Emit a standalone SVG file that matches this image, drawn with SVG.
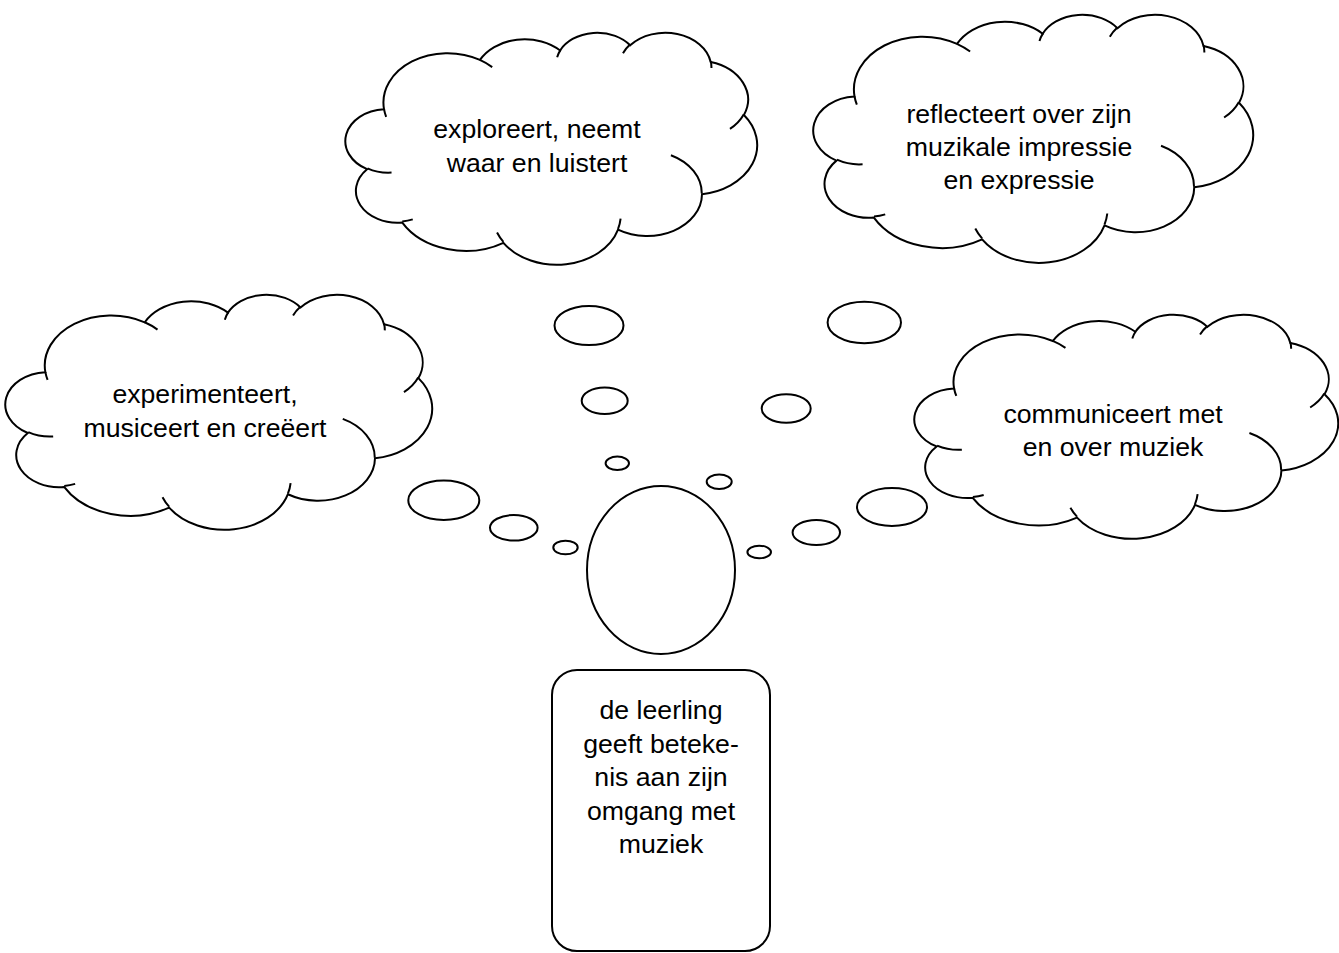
<svg xmlns="http://www.w3.org/2000/svg" width="1339" height="953" viewBox="0 0 1339 953">
<style>
.cl{fill:#fff;stroke:#000;stroke-width:2;vector-effect:non-scaling-stroke}
.st{fill:none;stroke:#000;stroke-width:2;vector-effect:non-scaling-stroke}
.bub{fill:#fff;stroke:#000;stroke-width:2}
.t{font-family:"Liberation Sans",Arial,Helvetica,sans-serif;font-size:26.67px;fill:#000;text-anchor:middle}
</style>
<defs>
<path id="cloudOutline" d="M3900 14370 A6753 9190 0 0 1 14005 5202 A5333 7267 0 0 1 22456 3431 A4365 5945 0 0 1 29834 2479 A4857 6595 0 0 1 38320 5574 A5333 7273 0 0 1 41820 15458 A6775 9220 0 0 1 37404 30198 A5785 7867 0 0 1 28556 36808 A6752 9215 0 0 1 16482 39261 A7720 10543 0 0 1 5806 35464 A4360 5918 0 0 1 2115 25542 A4345 5945 0 0 1 3900 14370 Z"/>
<path id="cloudStubs" d="M4693 26177 A4345 5945 0 0 1 2160 25380 M6928 34899 A4360 5918 0 0 1 5820 35281 M16478 39090 A6752 9215 0 0 1 15809 37349 M28827 34751 A6752 9215 0 0 1 28560 36660 M34129 22954 A5785 7867 0 0 1 37380 30090 M41798 15354 A5333 7273 0 0 1 40350 18030 M38324 5426 A4857 6595 0 0 1 38400 6690 M29078 3952 A4857 6595 0 0 1 29820 2340 M22141 4720 A4365 5945 0 0 1 22500 3332 M14000 5192 A6753 9190 0 0 1 15299 6540 M4127 15789 A6753 9190 0 0 1 3900 14370"/>
</defs>

<g id="cloud-exploreert">
<g transform="translate(347,32) scale(0.009491,0.005370)">
<path class="cl" d="M3900 14370 A6753 9190 0 0 1 14005 5202 A5333 7267 0 0 1 22456 3431 A4365 5945 0 0 1 29834 2479 A4857 6595 0 0 1 38320 5574 A5333 7273 0 0 1 41820 15458 A6775 9220 0 0 1 37404 30198 A5785 7867 0 0 1 28556 36808 A6752 9215 0 0 1 16482 39261 A7720 10543 0 0 1 5806 35464 A4360 5918 0 0 1 2115 25542 A4345 5945 0 0 1 3900 14370 Z"/>
<path class="st" d="M4693 26177 A4345 5945 0 0 1 2160 25380 M6928 34899 A4360 5918 0 0 1 5820 35281 M16478 39090 A6752 9215 0 0 1 15809 37349 M28827 34751 A6752 9215 0 0 1 28560 36660 M34129 22954 A5785 7867 0 0 1 37380 30090 M41798 15354 A5333 7273 0 0 1 40350 18030 M38324 5426 A4857 6595 0 0 1 38400 6690 M29078 3952 A4857 6595 0 0 1 29820 2340 M22141 4720 A4365 5945 0 0 1 22500 3332 M14000 5192 A6753 9190 0 0 1 15299 6540 M4127 15789 A6753 9190 0 0 1 3900 14370"/>
</g>
<text class="t" x="537" y="138">exploreert, neemt</text>
<text class="t" x="537" y="172">waar en luistert</text>
</g>

<g id="cloud-reflecteert">
<g transform="translate(815,14) scale(0.010139,0.005741)">
<path class="cl" d="M3900 14370 A6753 9190 0 0 1 14005 5202 A5333 7267 0 0 1 22456 3431 A4365 5945 0 0 1 29834 2479 A4857 6595 0 0 1 38320 5574 A5333 7273 0 0 1 41820 15458 A6775 9220 0 0 1 37404 30198 A5785 7867 0 0 1 28556 36808 A6752 9215 0 0 1 16482 39261 A7720 10543 0 0 1 5806 35464 A4360 5918 0 0 1 2115 25542 A4345 5945 0 0 1 3900 14370 Z"/>
<path class="st" d="M4693 26177 A4345 5945 0 0 1 2160 25380 M6928 34899 A4360 5918 0 0 1 5820 35281 M16478 39090 A6752 9215 0 0 1 15809 37349 M28827 34751 A6752 9215 0 0 1 28560 36660 M34129 22954 A5785 7867 0 0 1 37380 30090 M41798 15354 A5333 7273 0 0 1 40350 18030 M38324 5426 A4857 6595 0 0 1 38400 6690 M29078 3952 A4857 6595 0 0 1 29820 2340 M22141 4720 A4365 5945 0 0 1 22500 3332 M14000 5192 A6753 9190 0 0 1 15299 6540 M4127 15789 A6753 9190 0 0 1 3900 14370"/>
</g>
<text class="t" x="1019" y="123">reflecteert over zijn</text>
<text class="t" x="1019" y="156">muzikale impressie</text>
<text class="t" x="1019" y="189">en expressie</text>
</g>

<g id="cloud-experimenteert">
<g transform="translate(7,294) scale(0.009838,0.005440)">
<path class="cl" d="M3900 14370 A6753 9190 0 0 1 14005 5202 A5333 7267 0 0 1 22456 3431 A4365 5945 0 0 1 29834 2479 A4857 6595 0 0 1 38320 5574 A5333 7273 0 0 1 41820 15458 A6775 9220 0 0 1 37404 30198 A5785 7867 0 0 1 28556 36808 A6752 9215 0 0 1 16482 39261 A7720 10543 0 0 1 5806 35464 A4360 5918 0 0 1 2115 25542 A4345 5945 0 0 1 3900 14370 Z"/>
<path class="st" d="M4693 26177 A4345 5945 0 0 1 2160 25380 M6928 34899 A4360 5918 0 0 1 5820 35281 M16478 39090 A6752 9215 0 0 1 15809 37349 M28827 34751 A6752 9215 0 0 1 28560 36660 M34129 22954 A5785 7867 0 0 1 37380 30090 M41798 15354 A5333 7273 0 0 1 40350 18030 M38324 5426 A4857 6595 0 0 1 38400 6690 M29078 3952 A4857 6595 0 0 1 29820 2340 M22141 4720 A4365 5945 0 0 1 22500 3332 M14000 5192 A6753 9190 0 0 1 15299 6540 M4127 15789 A6753 9190 0 0 1 3900 14370"/>
</g>
<text class="t" x="205" y="403">experimenteert,</text>
<text class="t" x="205" y="437">musiceert en creëert</text>
</g>

<g id="cloud-communiceert">
<g transform="translate(916,314) scale(0.009769,0.005185)">
<path class="cl" d="M3900 14370 A6753 9190 0 0 1 14005 5202 A5333 7267 0 0 1 22456 3431 A4365 5945 0 0 1 29834 2479 A4857 6595 0 0 1 38320 5574 A5333 7273 0 0 1 41820 15458 A6775 9220 0 0 1 37404 30198 A5785 7867 0 0 1 28556 36808 A6752 9215 0 0 1 16482 39261 A7720 10543 0 0 1 5806 35464 A4360 5918 0 0 1 2115 25542 A4345 5945 0 0 1 3900 14370 Z"/>
<path class="st" d="M4693 26177 A4345 5945 0 0 1 2160 25380 M6928 34899 A4360 5918 0 0 1 5820 35281 M16478 39090 A6752 9215 0 0 1 15809 37349 M28827 34751 A6752 9215 0 0 1 28560 36660 M34129 22954 A5785 7867 0 0 1 37380 30090 M41798 15354 A5333 7273 0 0 1 40350 18030 M38324 5426 A4857 6595 0 0 1 38400 6690 M29078 3952 A4857 6595 0 0 1 29820 2340 M22141 4720 A4365 5945 0 0 1 22500 3332 M14000 5192 A6753 9190 0 0 1 15299 6540 M4127 15789 A6753 9190 0 0 1 3900 14370"/>
</g>
<text class="t" x="1113" y="423">communiceert met</text>
<text class="t" x="1113" y="456">en over muziek</text>
</g>

<g id="connectors">
<ellipse class="bub" cx="589" cy="325.5" rx="34.5" ry="19.5"/>
<ellipse class="bub" cx="604.7" cy="400.8" rx="23" ry="13.2"/>
<ellipse class="bub" cx="617.3" cy="463.3" rx="11.7" ry="6.7"/>
<ellipse class="bub" cx="864.3" cy="322.5" rx="36.7" ry="20.8"/>
<ellipse class="bub" cx="786.2" cy="408.5" rx="24.5" ry="14.2"/>
<ellipse class="bub" cx="719.2" cy="481.7" rx="12.5" ry="7.3"/>
<ellipse class="bub" cx="443.8" cy="500.3" rx="35.5" ry="19.7"/>
<ellipse class="bub" cx="513.8" cy="527.8" rx="23.8" ry="12.8"/>
<ellipse class="bub" cx="565.5" cy="547.5" rx="12.2" ry="6.8"/>
<ellipse class="bub" cx="892" cy="507" rx="35" ry="19"/>
<ellipse class="bub" cx="816.3" cy="532.5" rx="23.7" ry="12.5"/>
<ellipse class="bub" cx="759.2" cy="552" rx="11.8" ry="6.3"/>
</g>

<g id="head">
<ellipse class="bub" cx="661" cy="570" rx="74" ry="84"/>
</g>

<g id="leerling">
<rect class="bub" x="552" y="670" width="218" height="281" rx="25" ry="25"/>
<text class="t" x="661" y="719">de leerling</text>
<text class="t" x="661" y="752.5">geeft beteke-</text>
<text class="t" x="661" y="786">nis aan zijn</text>
<text class="t" x="661" y="819.5">omgang met</text>
<text class="t" x="661" y="853">muziek</text>
</g>
</svg>
